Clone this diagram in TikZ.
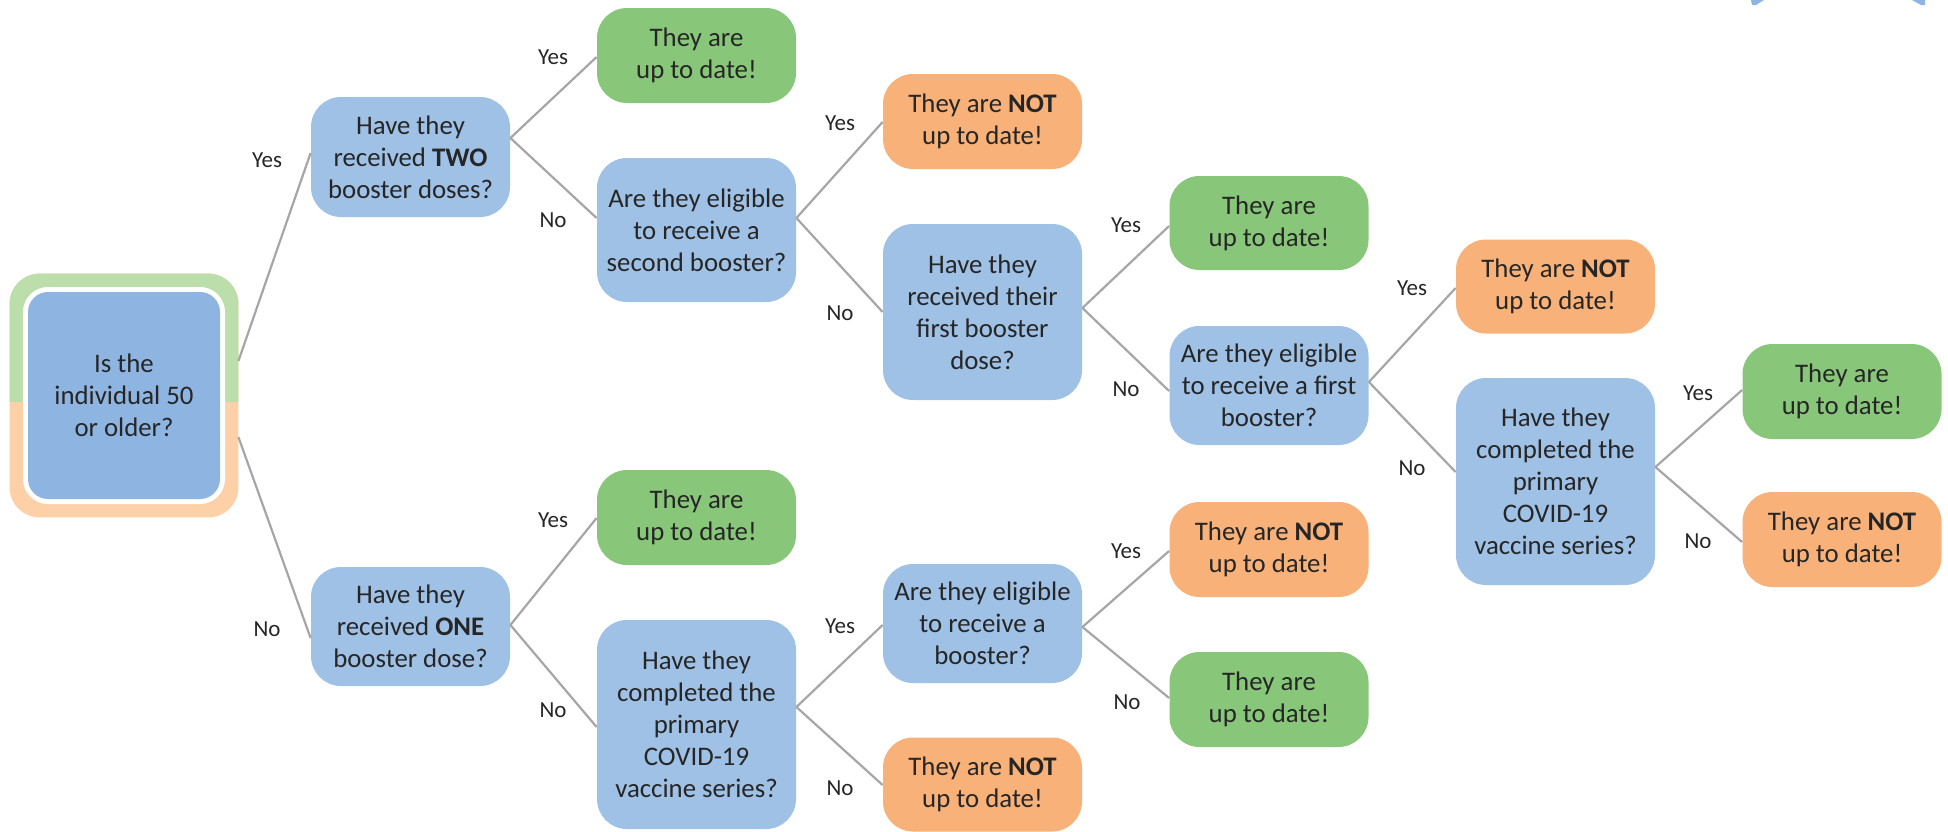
\documentclass[tikz,border=0pt]{standalone}
\usepackage{fontspec}
\setmainfont{Carlito}
\newcommand{\bxfont}{\fontsize{13.4}{16}\selectfont}
\newcommand{\lbfont}{\fontsize{11.5}{13}\selectfont}
\definecolor{txt}{RGB}{38,38,38}
\definecolor{qblue}{RGB}{158,193,229}
\definecolor{startblue}{RGB}{142,181,226}
\definecolor{okgreen}{RGB}{136,199,122}
\definecolor{notorange}{RGB}{248,177,120}
\definecolor{ringgreen}{RGB}{187,222,170}
\definecolor{ringorange}{RGB}{253,208,168}
\definecolor{linegray}{RGB}{166,166,166}
\definecolor{wedgeblue}{RGB}{141,180,226}
\tikzset{
  basebox/.style={rounded corners=15pt, inner sep=0pt, align=center, text=txt, font=\bxfont, minimum width=99.5pt},
  qbox/.style={basebox, fill=qblue},
  okbox/.style={basebox, fill=okgreen},
  notbox/.style={basebox, fill=notorange},
  lbl/.style={font=\lbfont, text=txt, inner sep=0pt},
  conn/.style={draw=linegray, line width=1.1pt},
}
\begin{document}
\begin{tikzpicture}[x=0.5pt, y=-0.5pt]
\useasboundingbox (0,0) rectangle (1948,831);
\fill[white] (0,0) rectangle (1948,831);

% start node with two-colour ring
\node[inner sep=0pt, minimum width=114pt, minimum height=121.5pt] (ring) at (124,395.5) {};
\fill[ringorange, rounded corners=15pt] (ring.south west) rectangle (ring.north east);
\begin{scope}
  \clip (ring.north west) rectangle (ring.east |- 0,401);
  \fill[ringgreen, rounded corners=15pt] (ring.south west) rectangle (ring.north east);
\end{scope}
\node[rounded corners=12.5pt, fill=white, inner sep=0pt, minimum width=101pt, minimum height=108.5pt] (ringgap) at (ring.center) {};
\node[rounded corners=10pt, fill=startblue, inner sep=0pt, minimum width=96pt, minimum height=103.5pt,
      align=center, text=txt, font=\bxfont] (start) at (ring.center) {Is the\\individual 50\\or older?};

% column 1
\node[qbox, minimum height=60pt] (two) at (410.5,157) {Have they\\received \textbf{TWO}\\booster doses?};
\node[qbox, minimum height=59.5pt] (one) at (410.5,626.5) {Have they\\received \textbf{ONE}\\booster dose?};
% column 2
\node[okbox, minimum height=47.5pt] (g1) at (696.5,55.5) {They are\\up to date!};
\node[qbox, minimum height=72pt] (e2) at (696.5,230) {Are they eligible\\to receive a\\second booster?};
\node[okbox, minimum height=47.5pt] (g2) at (696.5,517.5) {They are\\up to date!};
\node[qbox, minimum height=104.5pt] (c1) at (696.5,724.5) {Have they\\completed the\\primary\\COVID-19\\vaccine series?};
% column 3
\node[notbox, minimum height=47.5pt] (n1) at (982.5,121.5) {They are \textbf{NOT}\\up to date!};
\node[qbox, minimum height=88pt] (fb) at (982.5,312) {Have they\\received their\\first booster\\dose?};
\node[qbox, minimum height=59.5pt] (eb) at (982.5,623.5) {Are they eligible\\to receive a\\booster?};
\node[notbox, minimum height=47pt] (n2) at (982.5,784.5) {They are \textbf{NOT}\\up to date!};
% column 4
\node[okbox, minimum height=47pt] (g3) at (1269,223) {They are\\up to date!};
\node[qbox, minimum height=59.5pt] (ef) at (1269,385.5) {Are they eligible\\to receive a first\\booster?};
\node[notbox, minimum height=47.5pt] (n3) at (1269,549.5) {They are \textbf{NOT}\\up to date!};
\node[okbox, minimum height=47.5pt] (g4) at (1269,699.5) {They are\\up to date!};
% column 5
\node[notbox, minimum height=47pt] (n4) at (1555.5,286.5) {They are \textbf{NOT}\\up to date!};
\node[qbox, minimum height=103.5pt] (c2) at (1555.5,481.5) {Have they\\completed the\\primary\\COVID-19\\vaccine series?};
% column 6
\node[okbox, minimum height=47.5pt] (g5) at (1842,391.5) {They are\\up to date!};
\node[notbox, minimum height=47.5pt] (n5) at (1842,539.5) {They are \textbf{NOT}\\up to date!};

% connectors
\draw[conn] (ring.east |- 0,361) -- (two.west |- 0,153);
\draw[conn] (ring.east |- 0,437) -- (one.west |- 0,638);
\draw[conn] (two.east |- 0,138) -- (g1.west |- 0,57);
\draw[conn] (two.east |- 0,138) -- (e2.west |- 0,218);
\draw[conn] (e2.east |- 0,218) -- (n1.west |- 0,122);
\draw[conn] (e2.east |- 0,218) -- (fb.west |- 0,312);
\draw[conn] (fb.east |- 0,308) -- (g3.west |- 0,226);
\draw[conn] (fb.east |- 0,308) -- (ef.west |- 0,391);
\draw[conn] (ef.east |- 0,382) -- (n4.west |- 0,288);
\draw[conn] (ef.east |- 0,382) -- (c2.west |- 0,472);
\draw[conn] (c2.east |- 0,467) -- (g5.west |- 0,390);
\draw[conn] (c2.east |- 0,467) -- (n5.west |- 0,542);
\draw[conn] (one.east |- 0,625) -- (g2.west |- 0,518);
\draw[conn] (one.east |- 0,625) -- (c1.west |- 0,727);
\draw[conn] (c1.east |- 0,707) -- (eb.west |- 0,625);
\draw[conn] (c1.east |- 0,707) -- (n2.west |- 0,785);
\draw[conn] (eb.east |- 0,627) -- (n3.west |- 0,551);
\draw[conn] (eb.east |- 0,627) -- (g4.west |- 0,698);

% labels
\node[lbl] (l1) at (267,160) {Yes};
\node[lbl] (l2) at (267,629) {No};
\node[lbl] (l3) at (553,57) {Yes};
\node[lbl] (l4) at (553,220) {No};
\node[lbl] (l5) at (840,123) {Yes};
\node[lbl] (l6) at (840,313) {No};
\node[lbl] (l7) at (1126,225) {Yes};
\node[lbl] (l8) at (1126,389) {No};
\node[lbl] (l9) at (1412,288) {Yes};
\node[lbl] (l10) at (1412,468) {No};
\node[lbl] (l11) at (1698,393) {Yes};
\node[lbl] (l12) at (1698,541) {No};
\node[lbl] (l13) at (553,520) {Yes};
\node[lbl] (l14) at (553,710) {No};
\node[lbl] (l15) at (840,626) {Yes};
\node[lbl] (l16) at (840,788) {No};
\node[lbl] (l17) at (1126,551) {Yes};
\node[lbl] (l18) at (1127,702) {No};

% partial blue shapes at the top edge
\fill[wedgeblue] (1751,0) -- (1764,0) -- (1756,5) -- (1752,5) -- cycle;
\fill[wedgeblue] (1912,0) -- (1925,0) -- (1925,5) -- (1921,5) -- cycle;
\end{tikzpicture}
\end{document}
